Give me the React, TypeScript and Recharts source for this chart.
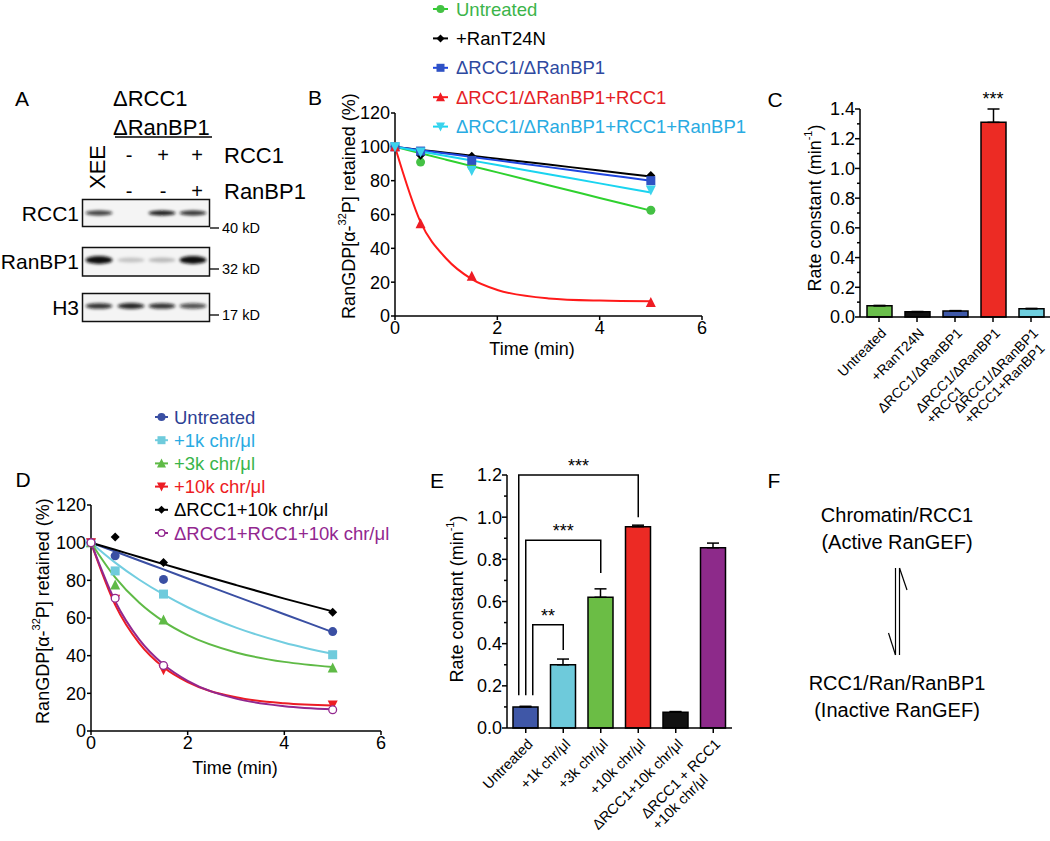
import React from 'react'
import { LineChart, Line, XAxis, YAxis, BarChart, Bar, Cell, ErrorBar } from 'recharts'

const FONT = '"Liberation Sans", Arial, Helvetica, sans-serif'

// ---------- B: RanGDP release after RCC1/RanBP1 depletion
const bPointTimes = [0, 0.5, 1.5, 5]
const bFitTimes = [0, 0.5, 1, 1.5, 2, 3, 4, 5]
const bUntreated = [100, 91, 88.5, 62.5]
const bRanT24N = [100, 95, 94.5, 83]
const bDepleted = [100, 97.5, 92, 80]
const bPlusRCC1 = [100, 54.5, 23.5, 8]
const bPlusBoth = [100, 97, 86, 74.5]
const bUntreatedFit = [100, 96.2, 92.4, 88.6, 84.9, 77.3, 69.8, 62.3]
const bRanT24NFit = [100, 98.2, 96.5, 94.7, 93, 89.5, 86, 82.5]
const bDepletedFit = [100, 98, 96, 94, 92, 88, 84, 80]
const bPlusRCC1Fit = [100, 55.5, 34, 21.8, 15.4, 10.4, 9.1, 8.7]
const bPlusBothFit = [100, 97.3, 94.6, 91.9, 89.2, 83.8, 78.4, 73]

// ---------- C: rate constants
const cCats = ['Untreated', '+RanT24N', 'ΔRCC1/ΔRanBP1', 'ΔRCC1/ΔRanBP1\n+RCC1', 'ΔRCC1/ΔRanBP1\n+RCC1+RanBP1']
const cRates = [0.075, 0.035, 0.04, 1.31, 0.055]
const cErrors = [0.003, 0.002, 0.003, 0.09, 0.003]
const cColors = ['#6abf4b', '#111111', '#3e58a8', '#ec2b24', '#6fcfdf']

// ---------- D: chromatin titration
const dPointTimes = [0, 0.5, 1.5, 5]
const dFitTimes = [0, 0.5, 1, 1.5, 2, 3, 4, 5]
const dUntreated = [100, 93, 80.5, 52.8]
const d1k = [100, 85, 72.7, 40.5]
const d3k = [100, 77.5, 59, 33.5]
const d10k = [100, 70, 32.5, 13.8]
const dDepleted10k = [100, 103, 89.5, 63]
const dRescue10k = [100, 70.5, 34.8, 11.3]
const dUntreatedFit = [100, 95.3, 90.5, 85.8, 81, 71.5, 62, 52.5]
const d1kFit = [100, 89.4, 80.3, 72.5, 65.7, 54.9, 46.9, 41]
const d3kFit = [100, 81.6, 68.1, 58.2, 50.9, 41.7, 36.7, 34]
const d10kFit = [100, 67, 46.5, 33.8, 25.9, 17.9, 14.7, 13.6]
const dDepleted10kFit = [100, 96.2, 92.4, 88.6, 84.9, 77.5, 70.3, 63.5]
const dRescue10kFit = [100, 68.9, 48.5, 35.3, 26.6, 17.2, 13.2, 11.5]

// ---------- E: rate constants
const eCats = ['Untreated', '+1k chr/μl', '+3k chr/μl', '+10k chr/μl', 'ΔRCC1+10k chr/μl', 'ΔRCC1 + RCC1\n+10k chr/μl']
const eRates = [0.1, 0.3, 0.62, 0.955, 0.075, 0.855]
const eErrors = [0.003, 0.027, 0.04, 0.007, 0.003, 0.022]
const eColors = ['#3f57a7', '#6ecadb', '#6bbd45', '#ec2a24', '#111111', '#8d2a8a']
const eSig = [
  { from: 0, to: 1, stars: '**', top: 0.49, end: 0.37 },
  { from: 0, to: 2, stars: '***', top: 0.89, end: 0.735 },
  { from: 0, to: 3, stars: '***', top: 1.2, end: 1.0 },
]

// ---------- A: western blot
const laneX = [99, 131, 162, 193]
const blotRows = [
  { name: 'RCC1', top: 199.5, bottom: 226.5, marker: '40 kD', markerY: 228, bandY: 213, thick: 2.4, bands: [0.8, 0, 0.95, 0.85] },
  { name: 'RanBP1', top: 247.5, bottom: 276, marker: '32 kD', markerY: 269, bandY: 260, thick: 3.6, bands: [1, 0.2, 0.24, 1] },
  { name: 'H3', top: 293.5, bottom: 321.5, marker: '17 kD', markerY: 315, bandY: 306, thick: 2.8, bands: [0.85, 0.9, 0.85, 0.72] },
]

const rows = (ts: number[], ys: number[]) => ts.map((t, i) => ({ t, y: ys[i] }))

type Shape = 'circle' | 'square' | 'triangle' | 'triangleDown' | 'diamond' | 'openCircle'

function Marker({ shape, color, cx, cy, size }: { shape: Shape; color: string; cx: number; cy: number; size: number }) {
  const s = size / 2
  if (shape === 'circle') return <circle cx={cx} cy={cy} r={s} fill={color} />
  if (shape === 'openCircle') return <circle cx={cx} cy={cy} r={s - 0.6} fill="#fff" stroke={color} strokeWidth={1.3} />
  if (shape === 'square') return <rect x={cx - s} y={cy - s} width={size} height={size} fill={color} />
  if (shape === 'triangle')
    return <polygon points={`${cx},${cy - s - 1} ${cx + s + 0.5},${cy + s} ${cx - s - 0.5},${cy + s}`} fill={color} />
  if (shape === 'triangleDown')
    return <polygon points={`${cx},${cy + s + 1} ${cx + s + 0.5},${cy - s} ${cx - s - 0.5},${cy - s}`} fill={color} />
  return <polygon points={`${cx},${cy - s} ${cx + s},${cy} ${cx},${cy + s} ${cx - s},${cy}`} fill={color} />
}

const dotRenderer = (shape: Shape, color: string, size: number) => (p: any) => (
  <g key={`d${p.index}`}>
    <Marker shape={shape} color={color} cx={p.cx} cy={p.cy} size={size} />
  </g>
)

const bSeries = [
  { name: 'Untreated', pts: bUntreated, fit: bUntreatedFit, line: '#2fd12f', marker: '#44c144', text: '#3cb44a', shape: 'circle' as Shape },
  { name: '+RanT24N', pts: bRanT24N, fit: bRanT24NFit, line: '#000', marker: '#000', text: '#000', shape: 'diamond' as Shape },
  { name: 'ΔRCC1/ΔRanBP1', pts: bDepleted, fit: bDepletedFit, line: '#1f45e0', marker: '#2f52c4', text: '#2e49a0', shape: 'square' as Shape },
  { name: 'ΔRCC1/ΔRanBP1+RCC1', pts: bPlusRCC1, fit: bPlusRCC1Fit, line: '#ff1a1a', marker: '#ee1c24', text: '#e41e26', shape: 'triangle' as Shape },
  { name: 'ΔRCC1/ΔRanBP1+RCC1+RanBP1', pts: bPlusBoth, fit: bPlusBothFit, line: '#1ad4f0', marker: '#3cd3ec', text: '#29abe2', shape: 'triangleDown' as Shape },
]

const dSeries = [
  { name: 'Untreated', pts: dUntreated, fit: dUntreatedFit, line: '#3a4fa3', marker: '#3a4fa3', text: '#2e3f94', shape: 'circle' as Shape },
  { name: '+1k chr/μl', pts: d1k, fit: d1kFit, line: '#72cde0', marker: '#6fcbdc', text: '#29abe2', shape: 'square' as Shape },
  { name: '+3k chr/μl', pts: d3k, fit: d3kFit, line: '#5fba46', marker: '#5fba46', text: '#39b54a', shape: 'triangle' as Shape },
  { name: '+10k chr/μl', pts: d10k, fit: d10kFit, line: '#ec1c24', marker: '#ec1c24', text: '#ed1c24', shape: 'triangleDown' as Shape },
  { name: 'ΔRCC1+10k chr/μl', pts: dDepleted10k, fit: dDepleted10kFit, line: '#000', marker: '#000', text: '#000', shape: 'diamond' as Shape },
  { name: 'ΔRCC1+RCC1+10k chr/μl', pts: dRescue10k, fit: dRescue10kFit, line: '#92278f', marker: '#92278f', text: '#92278f', shape: 'openCircle' as Shape },
]

// chart boxes (page coordinates)
const bBox = { left: 300, top: 90, width: 420, height: 290, margin: { top: 23, right: 18, left: 35, bottom: 34 }, yw: 60, xh: 30 }
const dBox = { left: 0, top: 480, width: 400, height: 320, margin: { top: 25, right: 19, left: 31, bottom: 39 }, yw: 60, xh: 30 }
const cBox = { left: 760, top: 90, width: 290, height: 350, margin: { top: 19, right: 0, left: 40, bottom: 13 }, yw: 60, xh: 110 }
const eBox = { left: 420, top: 450, width: 330, height: 391, margin: { top: 25, right: 18, left: 27, bottom: 13 }, yw: 60, xh: 100 }

const plot = (b: typeof bBox) => ({
  x0: b.left + b.margin.left + b.yw,
  x1: b.left + b.width - b.margin.right,
  y0: b.top + b.margin.top,
  y1: b.top + b.height - b.margin.bottom - b.xh,
})

const axisStyle = { stroke: '#000', strokeWidth: 1.5 }
const tickStyle = { fill: '#000', fontSize: 18, fontFamily: FONT }

let measureCtx: CanvasRenderingContext2D | null = null
function textWidth(s: string, size: number) {
  if (!measureCtx && typeof document !== 'undefined') measureCtx = document.createElement('canvas').getContext('2d')
  if (!measureCtx) return s.length * size * 0.55
  measureCtx.font = `${size}px ${FONT}`
  return measureCtx.measureText(s).width
}

// rotated category label: first line ends at the tick, next lines left-aligned under it
const makeAngledTick = (axisY: number, size: number) => (p: any) => {
  const lines = String(p.payload.value).split('\n')
  const w0 = textWidth(lines[0], size)
  return (
    <g transform={`translate(${p.x},${axisY})`}>
      <line x1={0} y1={0} x2={0} y2={5} stroke="#000" strokeWidth={1.5} />
      <text transform="translate(8,17) rotate(-45)" fontSize={size} fontFamily={FONT} fill="#000">
        {lines.map((l, i) => (
          <tspan key={i} x={-w0} dy={i === 0 ? 0 : size * 1.1} textAnchor="start">
            {l}
          </tspan>
        ))}
      </text>
    </g>
  )
}

const makeRateTick = (axisX: number) => (p: any) => {
  const v = p.payload.value as number
  const major = Math.round(v * 10) % 2 === 0
  return (
    <g>
      <line x1={axisX - (major ? 5 : 3)} x2={axisX} y1={p.y} y2={p.y} stroke="#000" strokeWidth={1.5} />
      {major && (
        <text x={axisX - 5} y={p.y} dy="0.36em" textAnchor="end" fontSize={18} fontFamily={FONT} fill="#000">
          {v.toFixed(1)}
        </text>
      )}
    </g>
  )
}

function TimeCourse({ box, series, pointTimes, fitTimes }: { box: typeof bBox; series: typeof bSeries; pointTimes: number[]; fitTimes: number[] }) {
  return (
    <LineChart width={box.width} height={box.height} margin={box.margin}>
      <XAxis type="number" dataKey="t" domain={[0, 6]} ticks={[0, 2, 4, 6]} height={box.xh} axisLine={axisStyle}
        tickLine={axisStyle} tickSize={4} tickMargin={1} tick={tickStyle} interval={0} />
      <YAxis type="number" domain={[0, 120]} ticks={[0, 20, 40, 60, 80, 100, 120]} width={box.yw} axisLine={axisStyle}
        tickLine={axisStyle} tickSize={4} tickMargin={1} tick={tickStyle} interval={0} />
      {series.map((s) => (
        <Line key={s.name + 'fit'} data={rows(fitTimes, s.fit)} dataKey="y" type="monotone" stroke={s.line}
          strokeWidth={2} dot={false} activeDot={false} isAnimationActive={false} />
      ))}
      {series.map((s) => (
        <Line key={s.name + 'pts'} data={rows(pointTimes, s.pts)} dataKey="y" stroke="none"
          dot={dotRenderer(s.shape, s.marker, 9)} activeDot={false} isAnimationActive={false} />
      ))}
    </LineChart>
  )
}

const rateTicksC = [0, 0.1, 0.2, 0.3, 0.4, 0.5, 0.6, 0.7, 0.8, 0.9, 1.0, 1.1, 1.2, 1.3, 1.4]
const rateTicksE = [0, 0.1, 0.2, 0.3, 0.4, 0.5, 0.6, 0.7, 0.8, 0.9, 1.0, 1.1, 1.2]

function RateBars({ box, cats, rates, errors, colors, max, ticks, labelSize }: any) {
  const data = cats.map((c: string, i: number) => ({ name: c, v: rates[i], err: [0, errors[i]] }))
  const axisY = box.height - box.margin.bottom - box.xh
  return (
    <BarChart width={box.width} height={box.height} margin={box.margin} data={data} barCategoryGap={0}>
      <XAxis dataKey="name" height={box.xh} axisLine={axisStyle} tickLine={false} interval={0}
        tick={makeAngledTick(axisY, labelSize)} />
      <YAxis type="number" domain={[0, max]} ticks={ticks} width={box.yw} axisLine={axisStyle}
        tickLine={false} interval={0} tick={makeRateTick(box.margin.left + box.yw)} />
      <Bar dataKey="v" barSize={25} stroke="#000" strokeWidth={1.5} isAnimationActive={false}>
        {data.map((_: any, i: number) => (
          <Cell key={i} fill={colors[i]} />
        ))}
        <ErrorBar dataKey="err" width={6} stroke="#000" strokeWidth={1.5} direction="y" isAnimationActive={false} />
      </Bar>
    </BarChart>
  )
}

function PanelA() {
  return (
    <g fontFamily={FONT} fill="#000">
      <defs>
        <filter id="blotBlur" x="-20%" y="-100%" width="140%" height="300%">
          <feGaussianBlur stdDeviation="1.4" />
        </filter>
      </defs>
      <text x={113} y={98} fontSize={22} dominantBaseline="central">ΔRCC1</text>
      <text x={113} y={127} fontSize={22} dominantBaseline="central">ΔRanBP1</text>
      <line x1={115} x2={212} y1={137} y2={137} stroke="#000" strokeWidth={1.5} />
      <text transform="translate(97,167) rotate(-90)" fontSize={22} textAnchor="middle" dominantBaseline="central">XEE</text>
      {['-', '+', '+'].map((s, i) => (
        <text key={'r' + i} x={[129, 163, 197][i]} y={155} fontSize={20} textAnchor="middle" dominantBaseline="central">{s}</text>
      ))}
      {['-', '-', '+'].map((s, i) => (
        <text key={'b' + i} x={[129, 163, 197][i]} y={191} fontSize={20} textAnchor="middle" dominantBaseline="central">{s}</text>
      ))}
      <text x={224} y={155} fontSize={22} dominantBaseline="central">RCC1</text>
      <text x={224} y={191} fontSize={22} dominantBaseline="central">RanBP1</text>
      {blotRows.map((r) => (
        <g key={r.name}>
          <text x={79} y={(r.top + r.bottom) / 2} fontSize={21} textAnchor="end" dominantBaseline="central">{r.name}</text>
          <rect x={82.5} y={r.top} width={127} height={r.bottom - r.top} fill="#f4f4f4" />
          <g filter="url(#blotBlur)">
            {r.bands.map((b, i) =>
              b > 0 ? (
                <ellipse key={i} cx={laneX[i]} cy={r.bandY} rx={13.5} ry={r.thick * (0.6 + 0.5 * b)} fill="#111" opacity={b} />
              ) : null,
            )}
          </g>
          <rect x={82.5} y={r.top} width={127} height={r.bottom - r.top} fill="none" stroke="#111" strokeWidth={1.5} />
          <line x1={210} x2={219} y1={r.markerY} y2={r.markerY} stroke="#000" strokeWidth={1.3} />
          <text x={222} y={r.markerY} fontSize={14.5} dominantBaseline="central">{r.marker}</text>
        </g>
      ))}
    </g>
  )
}

function Legend({ series, x0, x1, textX, y0, step, fontSize, size }: any) {
  return (
    <g fontFamily={FONT}>
      {series.map((s: any, i: number) => {
        const y = y0 + i * step
        return (
          <g key={s.name}>
            <line x1={x0} x2={x1} y1={y} y2={y} stroke={s.line} strokeWidth={2} />
            <Marker shape={s.shape} color={s.marker} cx={(x0 + x1) / 2} cy={y} size={size} />
            <text x={textX} y={y} fontSize={fontSize} fill={s.text} dominantBaseline="central">{s.name}</text>
          </g>
        )
      })}
    </g>
  )
}

function EBrackets() {
  const p = plot(eBox)
  const band = (p.x1 - p.x0) / eCats.length
  const ex = (i: number) => p.x0 + (i + 0.5) * band
  const ey = (v: number) => p.y1 - (v / 1.2) * (p.y1 - p.y0)
  return (
    <g fontFamily={FONT}>
      {eSig.map((s, k) => {
        const xl = ex(s.from) + (1 - k) * 7
        const xr = ex(s.to)
        return (
          <g key={k}>
            <polyline points={`${xl},${ey(0.155)} ${xl},${ey(s.top)} ${xr},${ey(s.top)} ${xr},${ey(s.end)}`}
              fill="none" stroke="#000" strokeWidth={1.5} />
            <text x={(xl + xr) / 2} y={ey(s.top) - 3} fontSize={18} textAnchor="middle">{s.stars}</text>
          </g>
        )
      })}
    </g>
  )
}

function CStars() {
  const p = plot(cBox)
  const band = (p.x1 - p.x0) / cCats.length
  const i = 3
  const y = p.y1 - ((cRates[i] + cErrors[i]) / 1.4) * (p.y1 - p.y0)
  return <text x={p.x0 + (i + 0.5) * band} y={y - 4} fontSize={18} fontFamily={FONT} textAnchor="middle">***</text>
}

function PanelF() {
  return (
    <g fontFamily={FONT} fontSize={20} textAnchor="middle">
      <text x={897} y={515} dominantBaseline="central">Chromatin/RCC1</text>
      <text x={897} y={542} dominantBaseline="central">(Active RanGEF)</text>
      <line x1={895.5} x2={895.5} y1={568} y2={655} stroke="#000" strokeWidth={1.2} />
      <line x1={899.5} x2={899.5} y1={568} y2={655} stroke="#000" strokeWidth={1.2} />
      <line x1={899.5} x2={907} y1={568} y2={590} stroke="#000" strokeWidth={1.2} />
      <line x1={895.5} x2={888.5} y1={655} y2={633} stroke="#000" strokeWidth={1.2} />
      <text x={897} y={683} dominantBaseline="central">RCC1/Ran/RanBP1</text>
      <text x={897} y={710} dominantBaseline="central">(Inactive RanGEF)</text>
    </g>
  )
}

function Titles() {
  const t = { fontFamily: FONT, fontSize: 18, fill: '#000' }
  return (
    <g>
      {[['A', 22, 98], ['B', 315, 97], ['C', 775, 99], ['D', 23, 479], ['E', 437, 480], ['F', 774, 480]].map(([l, x, y]) => (
        <text key={l as string} x={x as number} y={y as number} fontSize={21} fontFamily={FONT} textAnchor="middle" dominantBaseline="central">{l}</text>
      ))}
      <text {...t} transform="translate(349,206) rotate(-90)" textAnchor="middle" dominantBaseline="central">
        RanGDP[α-<tspan fontSize={11} dy={-7}>32</tspan><tspan dy={7}>P] retained (%)</tspan>
      </text>
      <text {...t} transform="translate(43,611) rotate(-90)" textAnchor="middle" dominantBaseline="central">
        RanGDP[α-<tspan fontSize={11} dy={-7}>32</tspan><tspan dy={7}>P] retained (%)</tspan>
      </text>
      <text {...t} x={532} y={349} textAnchor="middle" dominantBaseline="central">Time (min)</text>
      <text {...t} x={235} y={768} textAnchor="middle" dominantBaseline="central">Time (min)</text>
      <text {...t} transform="translate(815,208) rotate(-90)" textAnchor="middle" dominantBaseline="central">
        Rate constant (min<tspan fontSize={11} dy={-7}>-1</tspan><tspan dy={7}>)</tspan>
      </text>
      <text {...t} transform="translate(457,599) rotate(-90)" textAnchor="middle" dominantBaseline="central">
        Rate constant (min<tspan fontSize={11} dy={-7}>-1</tspan><tspan dy={7}>)</tspan>
      </text>
    </g>
  )
}

export default function App() {
  const place = (b: typeof bBox) => ({ position: 'absolute' as const, left: b.left, top: b.top })
  return (
    <div style={{ position: 'absolute', left: 0, top: 0, width: 1050, height: 841, background: '#fff', overflow: 'hidden' }}>
      <div style={place(bBox)}>
        <TimeCourse box={bBox} series={bSeries} pointTimes={bPointTimes} fitTimes={bFitTimes} />
      </div>
      <div style={place(dBox)}>
        <TimeCourse box={dBox} series={dSeries as any} pointTimes={dPointTimes} fitTimes={dFitTimes} />
      </div>
      <div style={place(cBox)}>
        <RateBars box={cBox} cats={cCats} rates={cRates} errors={cErrors} colors={cColors} max={1.4} ticks={rateTicksC} labelSize={14} />
      </div>
      <div style={place(eBox)}>
        <RateBars box={eBox} cats={eCats} rates={eRates} errors={eErrors} colors={eColors} max={1.2} ticks={rateTicksE} labelSize={14.5} />
      </div>
      <svg width={1050} height={841} style={{ position: 'absolute', left: 0, top: 0, pointerEvents: 'none' }}>
        <PanelA />
        <Legend series={bSeries} x0={433} x1={448} textX={456} y0={9} step={29.4} fontSize={18.5} size={8} />
        <Legend series={dSeries} x0={155} x1={168} textX={174} y0={417} step={23.2} fontSize={18.5} size={8} />
        <Titles />
        <CStars />
        <EBrackets />
        <PanelF />
      </svg>
    </div>
  )
}
